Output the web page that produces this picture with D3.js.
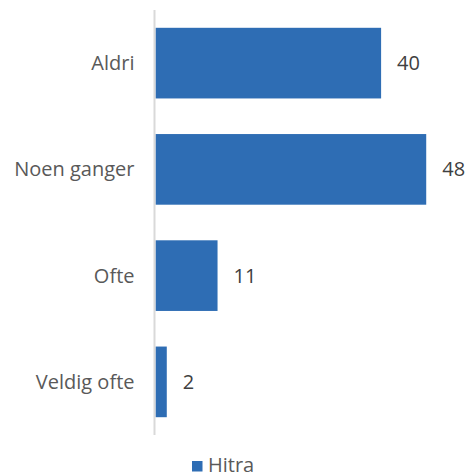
<!DOCTYPE html>
<html lang="no">
<head>
    <meta charset="UTF-8">
    <title>Hitra</title>
    <script src="https://d3js.org/d3.v7.min.js"></script>
    <style>
        body { margin: 0; background: #fff; }
        text { font-family: "Open Sans", sans-serif; }
    </style>
</head>
<body>
    <div id="my_dataviz"></div>

    <script>
        // data
        var categories = ["Aldri", "Noen ganger", "Ofte", "Veldig ofte"];
        var values = [40, 48, 11, 2];
        var seriesName = "Hitra";

        var W = 466, H = 472;
        var plotLeft = 155.5, plotTop = 10, plotBottom = 435;

        const svg = d3.select("#my_dataviz")
            .append("svg")
            .attr("width", W)
            .attr("height", H);

        var x = d3.scaleLinear()
            .domain([0, 48])
            .range([plotLeft, plotLeft + 48 * 5.64]);

        var y = d3.scaleBand()
            .domain(categories)
            .range([plotTop, plotBottom])
            .paddingInner(0.335)
            .paddingOuter(0.1675);

        // bars
        svg.selectAll("rect.bar")
            .data(values)
            .enter()
            .append("rect")
            .attr("class", "bar")
            .attr("x", x(0))
            .attr("y", function(d, i) { return y(categories[i]); })
            .attr("width", function(d) { return x(d) - x(0); })
            .attr("height", y.bandwidth())
            .attr("fill", "#2e6db4");

        // axis line (left)
        svg.append("line")
            .attr("x1", plotLeft - 1).attr("x2", plotLeft - 1)
            .attr("y1", plotTop).attr("y2", plotBottom)
            .attr("stroke", "#d9d9d9")
            .attr("stroke-width", 2);

        // category labels
        svg.selectAll("text.cat")
            .data(categories)
            .enter()
            .append("text")
            .attr("class", "cat")
            .attr("x", plotLeft - 21)
            .attr("y", function(d) { return y(d) + y.bandwidth() / 2; })
            .attr("dy", "0.35em")
            .attr("text-anchor", "end")
            .attr("font-size", 20)
            .attr("fill", "#595959")
            .text(function(d) { return d; });

        // value labels
        svg.selectAll("text.val")
            .data(values)
            .enter()
            .append("text")
            .attr("class", "val")
            .attr("x", function(d) { return x(d) + 16; })
            .attr("y", function(d, i) { return y(categories[i]) + y.bandwidth() / 2; })
            .attr("dy", "0.35em")
            .attr("font-size", 20)
            .attr("fill", "#404040")
            .text(function(d) { return d; });

        // legend
        var lg = svg.append("g").attr("transform", "translate(192,461)");
        lg.append("rect")
            .attr("width", 10.5).attr("height", 10.5)
            .attr("fill", "#2e6db4");
        lg.append("text")
            .attr("x", 16)
            .attr("y", 11)
            .attr("font-size", 20)
            .attr("fill", "#595959")
            .text(seriesName);
    </script>
</body>
</html>
